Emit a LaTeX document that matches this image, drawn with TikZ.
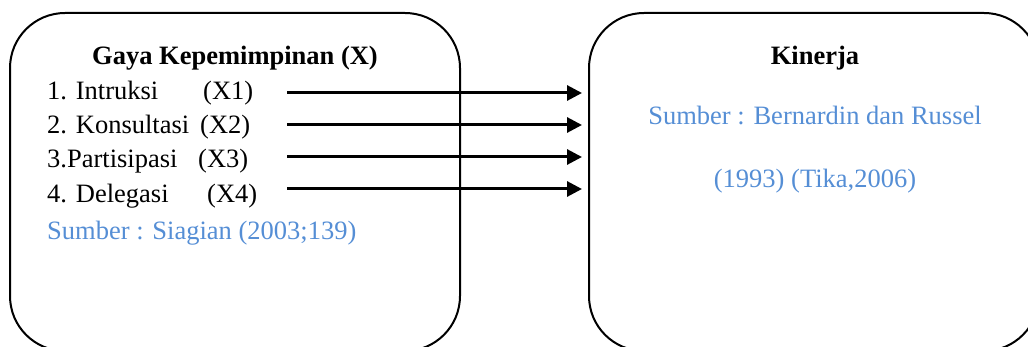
\documentclass[tikz,border=0pt]{standalone}
\usepackage{fontspec}
\setmainfont{Liberation Serif}
\usetikzlibrary{arrows.meta}
\definecolor{srcblue}{HTML}{558ED5}
\tikzset{
  box/.style={draw=black, line width=2pt, rounded corners=55pt, minimum width=450pt, minimum height=338pt, inner sep=0pt},
  txt/.style={inner sep=0pt, font=\fontsize{26.5}{32}\selectfont},
  head/.style={txt, font=\fontsize{26.5}{32}\selectfont\bfseries, anchor=base},
  item/.style={txt, anchor=base west},
  src/.style={txt, text=srcblue},
  arr/.style={line width=3pt, -{Triangle[length=15pt,width=15pt]}, shorten >=6pt}
}
\begin{document}
\begin{tikzpicture}[x=1pt,y=-1pt]
\useasboundingbox (0,0) rectangle (1028,347);
\clip (0,0) rectangle (1028,347);
\node[box] (L) at (235,182) {};
\node[box] (R) at (814,182) {};
\node[head] (t1) at (235,65) {Gaya Kepemimpinan (X)};
\node[item] (i1) at (47,99.3) {1. Intruksi};
\node[item] (x1) at (203,99.3) {(X1)};
\node[item] (i2) at (47,133.5) {2. Konsultasi};
\node[item] (x2) at (200,133.5) {(X2)};
\node[item] (i3) at (47,168) {3.Partisipasi};
\node[item] (x3) at (198,168) {(X3)};
\node[item] (i4) at (47,203) {4. Delegasi};
\node[item] (x4) at (207,203) {(X4)};
\node[item, src] (s1) at (47,240) {Sumber : Siagian (2003;139)};
\node[head] (t2) at (815,65) {Kinerja};
\node[src, anchor=base] (s2) at (815,125) {Sumber : Bernardin dan Russel};
\node[src, anchor=base] (s3) at (815,188) {(1993) (Tika,2006)};
\coordinate (a1) at (287,93);
\coordinate (a2) at (287,125);
\coordinate (a3) at (287,157);
\coordinate (a4) at (287,189);
\draw[arr] (a1) -- (a1 -| R.west);
\draw[arr] (a2) -- (a2 -| R.west);
\draw[arr] (a3) -- (a3 -| R.west);
\draw[arr] (a4) -- (a4 -| R.west);
\end{tikzpicture}
\end{document}
